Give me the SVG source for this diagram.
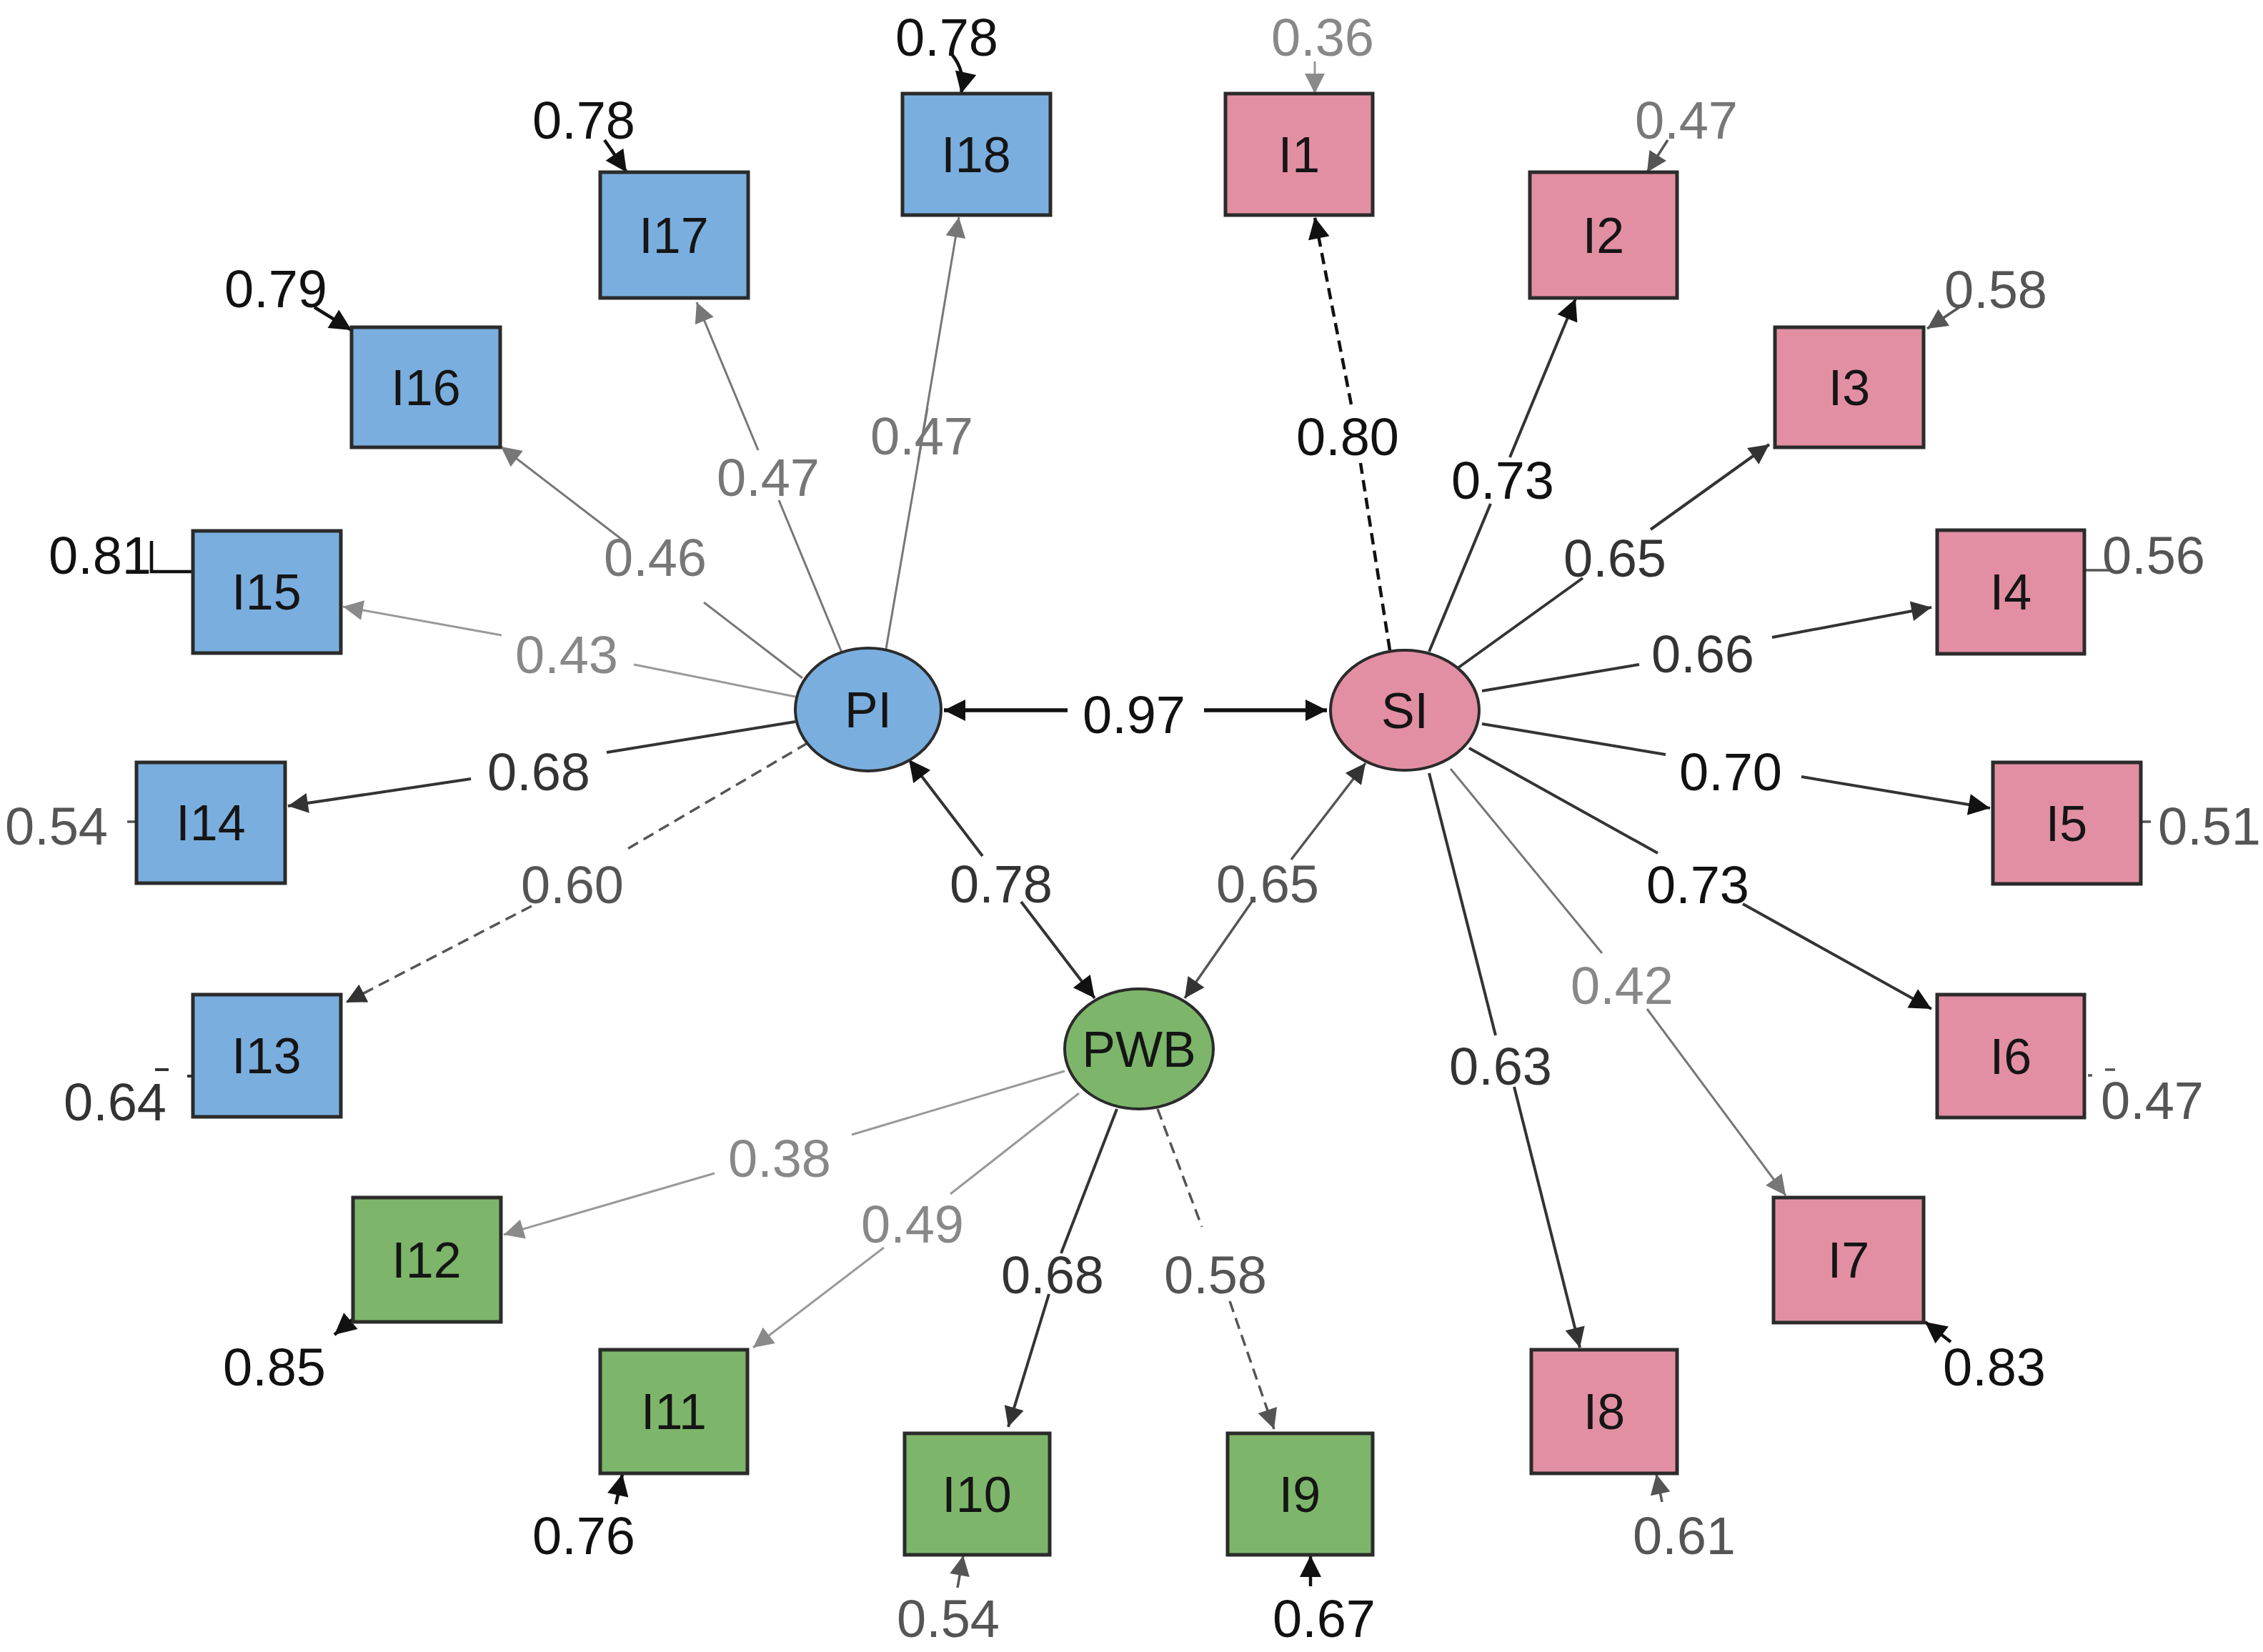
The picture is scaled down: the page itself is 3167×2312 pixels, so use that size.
<svg xmlns="http://www.w3.org/2000/svg" width="3167" height="2312" viewBox="0 0 3167 2312">
<style>
text{font-family:"Liberation Sans",Arial,sans-serif;text-anchor:middle}
.box{stroke:#2b2b2b;stroke-width:5}
.pi{fill:#7AAEDE}
.si{fill:#E38FA3}
.pwb{fill:#7DB66A}
.lat{stroke:#2b2b2b;stroke-width:4}
.nl{font-size:70px;fill:#151515}
.el{font-size:74px}
.e{fill:none;stroke-linecap:butt}
.k0{stroke:#111;stroke-width:4.5}
.k1{stroke:#333;stroke-width:4}
.k2{stroke:#555;stroke-width:3.5}
.k3{stroke:#777;stroke-width:3}
.k4{stroke:#999;stroke-width:3}
.d{stroke-dasharray:16,9}
.t0{fill:#111}.t1{fill:#333}.t2{fill:#555}.t3{fill:#777}.t4{fill:#888}
</style>
<defs>
<marker id="a0" viewBox="0 0 10 10" refX="10" refY="5" markerWidth="36" markerHeight="30" markerUnits="userSpaceOnUse" orient="auto"><path d="M0,0 L10,5 L0,10 z" fill="#111"/></marker>
<marker id="a1" viewBox="0 0 10 10" refX="10" refY="5" markerWidth="34" markerHeight="28" markerUnits="userSpaceOnUse" orient="auto"><path d="M0,0 L10,5 L0,10 z" fill="#333"/></marker>
<marker id="a2" viewBox="0 0 10 10" refX="10" refY="5" markerWidth="34" markerHeight="28" markerUnits="userSpaceOnUse" orient="auto"><path d="M0,0 L10,5 L0,10 z" fill="#555"/></marker>
<marker id="a3" viewBox="0 0 10 10" refX="10" refY="5" markerWidth="34" markerHeight="28" markerUnits="userSpaceOnUse" orient="auto"><path d="M0,0 L10,5 L0,10 z" fill="#777"/></marker>
<marker id="a4" viewBox="0 0 10 10" refX="10" refY="5" markerWidth="34" markerHeight="28" markerUnits="userSpaceOnUse" orient="auto"><path d="M0,0 L10,5 L0,10 z" fill="#8a8a8a"/></marker>
</defs>
<rect width="3167" height="2312" fill="#fff"/>

<g id="connectors">
<!-- PI loadings -->
<path class="e k3" d="M1240,908 L1298,571"/><path class="e k3" d="M1285,645 L1342,304" marker-end="url(#a3)"/>
<path class="e k3" d="M1178,913 L1090,700"/><path class="e k3" d="M1061,630 L975,423" marker-end="url(#a3)"/>
<path class="e k3" d="M1123,949 L985,843"/><path class="e k3" d="M873,757 L701,625" marker-end="url(#a3)"/>
<path class="e k4" d="M1113,975 L887,930"/><path class="e k4" d="M702,889 L480,849" marker-end="url(#a4)"/>
<path class="e k1" d="M1113,1010 L849,1053"/><path class="e k1" d="M659,1090 L403,1128" marker-end="url(#a1)"/>
<path class="e k2 d" d="M1130,1040 L873,1191"/><path class="e k2 d" d="M744,1268 L484,1403" marker-end="url(#a1)"/>
<!-- covariances -->
<path class="e k0" style="stroke-width:5.5" d="M1494,994 L1321,994" marker-end="url(#a0)"/><path class="e k0" style="stroke-width:5.5" d="M1685,994 L1857,994" marker-end="url(#a0)"/>
<path class="e k1" d="M1375,1198 L1272,1063" marker-end="url(#a0)"/><path class="e k1" d="M1429,1262 L1532,1397" marker-end="url(#a0)"/>
<path class="e k2" d="M1807,1203 L1911,1068" marker-end="url(#a1)"/><path class="e k2" d="M1754,1259 L1658,1397" marker-end="url(#a1)"/>
<!-- SI loadings -->
<path class="e k0 d" d="M1945,910 L1904,648"/><path class="e k0 d" d="M1891,566 L1840,304" marker-end="url(#a0)"/>
<path class="e k1" d="M2000,912 L2086,705"/><path class="e k1" d="M2113,640 L2205,418" marker-end="url(#a0)"/>
<path class="e k1" d="M2040,935 L2215,809"/><path class="e k1" d="M2310,741 L2476,622" marker-end="url(#a1)"/>
<path class="e k1" d="M2074,967 L2294,930"/><path class="e k1" d="M2480,892 L2703,850" marker-end="url(#a1)"/>
<path class="e k1" d="M2074,1013 L2331,1056"/><path class="e k1" d="M2521,1087 L2785,1131" marker-end="url(#a0)"/>
<path class="e k1" d="M2056,1047 L2320,1194"/><path class="e k1" d="M2439,1265 L2703,1412" marker-end="url(#a0)"/>
<path class="e k3" d="M2030,1076 L2242,1334"/><path class="e k3" d="M2305,1412 L2499,1673" marker-end="url(#a3)"/>
<path class="e k1" d="M2000,1082 L2093,1449"/><path class="e k1" d="M2119,1521 L2211,1886" marker-end="url(#a1)"/>
<!-- PWB loadings -->
<path class="e k4" d="M1490,1499 L1192,1588"/><path class="e k4" d="M1000,1642 L705,1728" marker-end="url(#a4)"/>
<path class="e k4" d="M1510,1530 L1330,1671"/><path class="e k4" d="M1237,1746 L1054,1886" marker-end="url(#a4)"/>
<path class="e k1" d="M1563,1552 L1485,1754"/><path class="e k1" d="M1468,1811 L1411,1997" marker-end="url(#a1)"/>
<path class="e k2 d" d="M1620,1552 L1682,1717"/><path class="e k2 d" d="M1721,1821 L1783,2000" marker-end="url(#a2)"/>
<!-- residuals -->
<path class="e k0" d="M1332,76 Q1352,100 1345,131" marker-end="url(#a0)"/>
<path class="e k4" d="M1840,86 L1840,131" marker-end="url(#a4)"/>
<path class="e k0" d="M846,196 L877,241" marker-end="url(#a0)"/>
<path class="e k2" d="M2334,196 L2305,241" marker-end="url(#a2)"/>
<path class="e k0" d="M440,430 L492,462" marker-end="url(#a0)"/>
<path class="e k2" d="M2742,430 L2697,460" marker-end="url(#a2)"/>
<path class="e k0" d="M212,757 L212,800 L270,800"/>
<path class="e k2" d="M2916,798 L2953,798"/>
<path class="e k2" d="M178,1150 L191,1150"/>
<path class="e k2" d="M2996,1150 L3010,1150"/>
<path class="e k1" d="M217,1497 L236,1497 M262,1506 L268,1506"/>
<path class="e k2" d="M2946,1497 L2960,1497 M2922,1505 L2928,1505"/>
<path class="e k0" d="M494,1846 L468,1868" marker-end="url(#a0)"/>
<path class="e k0" d="M862,2105 L871,2063" marker-end="url(#a0)"/>
<path class="e k2" d="M1340,2222 L1348,2177" marker-end="url(#a2)"/>
<path class="e k0" d="M1834,2220 L1834,2177" marker-end="url(#a0)"/>
<path class="e k2" d="M2326,2102 L2318,2063" marker-end="url(#a2)"/>
<path class="e k0" d="M2730,1878 L2694,1850" marker-end="url(#a0)"/>

<!-- edge labels -->
<text class="el t3" x="1290" y="636">0.47</text>
<text class="el t3" x="1075" y="694">0.47</text>
<text class="el t3" x="917" y="806">0.46</text>
<text class="el t4" x="793" y="942">0.43</text>
<text class="el t1" x="754" y="1106">0.68</text>
<text class="el t2" x="801" y="1264">0.60</text>
<text class="el t0" x="1587" y="1026">0.97</text>
<text class="el t1" x="1401" y="1263">0.78</text>
<text class="el t2" x="1774" y="1263">0.65</text>
<text class="el t0" x="1886" y="637">0.80</text>
<text class="el t0" x="2103" y="698">0.73</text>
<text class="el t1" x="2260" y="807">0.65</text>
<text class="el t1" x="2383" y="941">0.66</text>
<text class="el t0" x="2422" y="1106">0.70</text>
<text class="el t0" x="2376" y="1264">0.73</text>
<text class="el t4" x="2270" y="1405">0.42</text>
<text class="el t1" x="2100" y="1518">0.63</text>
<text class="el t4" x="1091" y="1647">0.38</text>
<text class="el t4" x="1277" y="1739">0.49</text>
<text class="el t1" x="1473" y="1810">0.68</text>
<text class="el t2" x="1701" y="1810">0.58</text>
<!-- residual labels -->
<text class="el t0" x="1325" y="78">0.78</text>
<text class="el t4" x="1851" y="78">0.36</text>
<text class="el t0" x="817" y="194">0.78</text>
<text class="el t3" x="2360" y="194">0.47</text>
<text class="el t0" x="386" y="430">0.79</text>
<text class="el t2" x="2793" y="431">0.58</text>
<text class="el t0" x="140" y="803">0.81</text>
<text class="el t2" x="3014" y="803">0.56</text>
<text class="el t2" x="79" y="1182">0.54</text>
<text class="el t2" x="3092" y="1182">0.51</text>
<text class="el t1" x="161" y="1568">0.64</text>
<text class="el t2" x="3012" y="1566">0.47</text>
<text class="el t0" x="384" y="1939">0.85</text>
<text class="el t0" x="2791" y="1939">0.83</text>
<text class="el t0" x="817" y="2175">0.76</text>
<text class="el t2" x="2357" y="2175">0.61</text>
<text class="el t2" x="1327" y="2291">0.54</text>
<text class="el t0" x="1853" y="2291">0.67</text>
</g>

<g id="PI"><ellipse class="pi lat" cx="1215" cy="993" rx="102" ry="86"/><text class="nl" x="1215" y="1018">PI</text></g>
<g id="SI"><ellipse class="si lat" cx="1966" cy="994" rx="104" ry="84"/><text class="nl" x="1966" y="1019">SI</text></g>
<g id="PWB"><ellipse class="pwb lat" cx="1594" cy="1468" rx="104" ry="84"/><text class="nl" x="1594" y="1493">PWB</text></g>

<g id="I18"><rect class="box pi" x="1263" y="131" width="207" height="170"/><text class="nl" x="1366" y="241">I18</text></g>
<g id="I17"><rect class="box pi" x="840" y="241" width="207" height="176"/><text class="nl" x="943" y="354">I17</text></g>
<g id="I16"><rect class="box pi" x="492" y="458" width="208" height="168"/><text class="nl" x="596" y="567">I16</text></g>
<g id="I15"><rect class="box pi" x="270" y="743" width="207" height="171"/><text class="nl" x="373" y="853">I15</text></g>
<g id="I14"><rect class="box pi" x="191" y="1067" width="208" height="169"/><text class="nl" x="295" y="1176">I14</text></g>
<g id="I13"><rect class="box pi" x="270" y="1392" width="207" height="171"/><text class="nl" x="373" y="1502">I13</text></g>

<g id="I1"><rect class="box si" x="1715" y="131" width="206" height="170"/><text class="nl" x="1818" y="241">I1</text></g>
<g id="I2"><rect class="box si" x="2141" y="241" width="206" height="176"/><text class="nl" x="2244" y="354">I2</text></g>
<g id="I3"><rect class="box si" x="2484" y="458" width="208" height="168"/><text class="nl" x="2588" y="567">I3</text></g>
<g id="I4"><rect class="box si" x="2711" y="742" width="206" height="173"/><text class="nl" x="2814" y="853">I4</text></g>
<g id="I5"><rect class="box si" x="2789" y="1067" width="207" height="170"/><text class="nl" x="2892" y="1177">I5</text></g>
<g id="I6"><rect class="box si" x="2711" y="1392" width="206" height="172"/><text class="nl" x="2814" y="1503">I6</text></g>
<g id="I7"><rect class="box si" x="2482" y="1676" width="210" height="175"/><text class="nl" x="2587" y="1788">I7</text></g>
<g id="I8"><rect class="box si" x="2143" y="1889" width="204" height="173"/><text class="nl" x="2245" y="2000">I8</text></g>

<g id="I12"><rect class="box pwb" x="494" y="1676" width="207" height="174"/><text class="nl" x="597" y="1788">I12</text></g>
<g id="I11"><rect class="box pwb" x="840" y="1889" width="206" height="173"/><text class="nl" x="943" y="2000">I11</text></g>
<g id="I10"><rect class="box pwb" x="1266" y="2006" width="203" height="170"/><text class="nl" x="1367" y="2116">I10</text></g>
<g id="I9"><rect class="box pwb" x="1718" y="2006" width="203" height="170"/><text class="nl" x="1819" y="2116">I9</text></g>
</svg>
